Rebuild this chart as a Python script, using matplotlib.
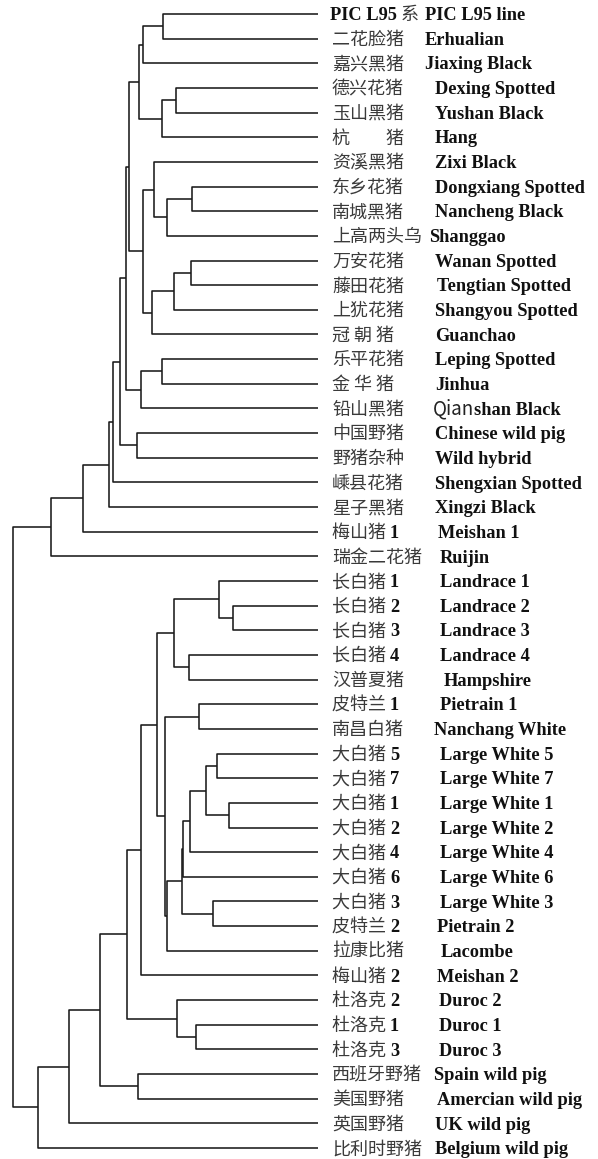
import re
import matplotlib
matplotlib.use("Agg")
import matplotlib.pyplot as plt

# ---------------- data ----------------
cn_labels = ["PIC L95 系", "二花脸猪", "嘉兴黑猪", "德兴花猪", "玉山黑猪", "杭　　猪",
             "资溪黑猪", "东乡花猪", "南城黑猪", "上高两头乌", "万安花猪", "藤田花猪",
             "上犹花猪", "冠 朝 猪", "乐平花猪", "金 华 猪", "铅山黑猪", "中国野猪",
             "野猪杂种", "嵊县花猪", "星子黑猪", "梅山猪 1", "瑞金二花猪", "长白猪 1",
             "长白猪 2", "长白猪 3", "长白猪 4", "汉普夏猪", "皮特兰 1", "南昌白猪",
             "大白猪 5", "大白猪 7", "大白猪 1", "大白猪 2", "大白猪 4", "大白猪 6",
             "大白猪 3", "皮特兰 2", "拉康比猪", "梅山猪 2", "杜洛克 2", "杜洛克 1",
             "杜洛克 3", "西班牙野猪", "美国野猪", "英国野猪", "比利时野猪"]

en_labels = ["PIC L95 line", "Erhualian", "Jiaxing Black", "Dexing Spotted", "Yushan Black",
             "Hang", "Zixi Black", "Dongxiang Spotted", "Nancheng Black", "Shanggao",
             "Wanan Spotted", "Tengtian Spotted", "Shangyou Spotted", "Guanchao",
             "Leping Spotted", "Jinhua", "Qianshan Black", "Chinese wild pig", "Wild hybrid",
             "Shengxian Spotted", "Xingzi Black", "Meishan 1", "Ruijin", "Landrace 1",
             "Landrace 2", "Landrace 3", "Landrace 4", "Hampshire", "Pietrain 1",
             "Nanchang White", "Large White 5", "Large White 7", "Large White 1",
             "Large White 2", "Large White 4", "Large White 6", "Large White 3",
             "Pietrain 2", "Lacombe", "Meishan 2", "Duroc 2", "Duroc 1", "Duroc 3",
             "Spain wild pig", "Amercian wild pig", "UK wild pig", "Belgium wild pig"]

# linkage table: leaves are 0..46, merge k creates node 47+k
merge_left = [0, 47, 3, 49, 48, 7, 52, 6, 10, 55, 56, 54, 51, 14, 60, 59, 17, 62, 64, 65,
              66, 67, 24, 23, 26, 70, 28, 30, 32, 74, 76, 77, 36, 78, 80, 73, 72, 83, 41,
              40, 84, 43, 87, 89, 90, 68]
merge_right = [1, 2, 4, 5, 50, 8, 9, 53, 11, 12, 13, 57, 58, 15, 16, 61, 18, 63, 19, 20,
               21, 22, 25, 69, 27, 71, 29, 31, 33, 75, 34, 35, 37, 79, 38, 81, 82, 39, 42,
               85, 86, 44, 88, 45, 46, 91]
merge_height = [155, 175, 142, 156, 179, 126, 151, 164, 127, 144, 166, 175, 189, 156, 177,
                192, 181, 198, 205, 209, 235, 267, 85, 99, 129, 144, 119, 101, 89, 112,
                128, 135, 105, 136, 151, 153, 161, 177, 122, 141, 191, 180, 218, 249, 280,
                305]

# ---------------- layout ----------------
W, H = 598, 1159
TIP_PX = 318          # pixel x of leaf tips
TOP_PX, BOT_PX = 14, 1148
n = len(cn_labels)
step = (BOT_PX - TOP_PX) / (n - 1)

CN_X = 332
en_x_default = 435
en_x_override = {0: 425, 1: 425, 2: 425, 9: 429, 11: 437, 16: 433, 21: 438, 22: 440,
                 23: 440, 24: 440, 25: 440, 26: 440, 27: 444, 28: 440, 29: 434,
                 30: 440, 31: 440, 32: 440, 33: 440, 34: 440, 35: 440, 36: 440,
                 37: 437, 38: 441, 39: 437, 40: 439, 41: 439, 42: 439, 43: 434,
                 44: 437}
en_plain_prefix = {16: 4}   # "Qian" drawn in regular weight

fig = plt.figure(figsize=(W / 100, H / 100), dpi=100)
ax = fig.add_axes([0, 0, 1, 1])
ax.set_xlim(TIP_PX, TIP_PX - W)                       # distance axis, leaves at 0
ax.set_ylim((H - TOP_PX) / step, -TOP_PX / step)     # leaf index axis
ax.axis("off")

LINE_KW = dict(color="#1a1a1a", lw=1.15, solid_capstyle="butt")

ypos = {i: float(i) for i in range(n)}
hpos = {i: 0.0 for i in range(n)}
for k, (a, b, h) in enumerate(zip(merge_left, merge_right, merge_height)):
    node = n + k
    ya, yb = ypos[a], ypos[b]
    ax.plot([hpos[a], h, h, hpos[b]], [ya, ya, yb, yb], **LINE_KW)
    ypos[node] = (ya + yb) / 2
    hpos[node] = h


def px(x):
    return TIP_PX - x


LAT_KW = dict(fontsize=13.2, fontfamily="Liberation Serif", fontweight="bold", color="#111111")
CJK_KW = dict(fontsize=13, fontfamily=["Noto Sans CJK SC", "DejaVu Sans"], color="#3a3a3a",
              fontweight="light")
BASE = 0.25


def draw_runs(x_px, y, runs):
    prev = None
    for txt, kw in runs:
        if prev is None:
            prev = ax.text(px(x_px), y, txt, va="baseline", ha="left", **kw)
        else:
            prev = ax.annotate(txt, xy=(1, y), xycoords=(prev, "data"), va="baseline",
                               ha="left", annotation_clip=False, **kw)


for i, (cn, en) in enumerate(zip(cn_labels, en_labels)):
    y = i + BASE
    parts = re.findall(r"[A-Za-z0-9]+(?: [A-Za-z0-9]+)*|[^A-Za-z0-9]+", cn)
    runs = []
    for p in parts:
        latin = p[0].isascii() and p[0].isalnum()
        runs.append((p, LAT_KW if latin else CJK_KW))
    cx = 330 if cn.startswith("PIC") else CN_X
    draw_runs(cx, y, runs)

    ex = en_x_override.get(i, en_x_default)
    if i in en_plain_prefix:
        m = en_plain_prefix[i]
        plain_kw = dict(fontsize=13.5, fontfamily=["Noto Sans CJK SC", "DejaVu Sans"],
                        color="#222222", fontweight="light")
        draw_runs(ex, y, [(en[:m], plain_kw), (en[m:], LAT_KW)])
    else:
        draw_runs(ex, y, [(en, LAT_KW)])

fig.savefig("out.png", dpi=100, facecolor="white")
